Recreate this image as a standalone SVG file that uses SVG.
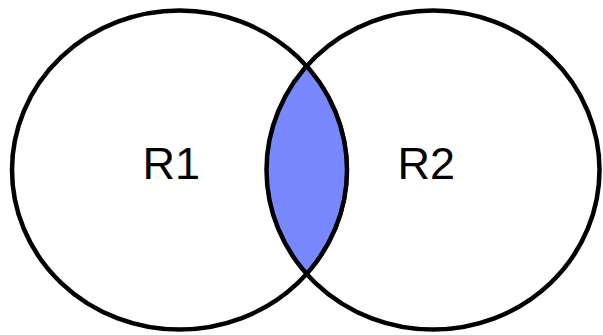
<svg xmlns="http://www.w3.org/2000/svg" width="603" height="335" viewBox="0 0 603 335">
  <style>
    .ring { fill: none; stroke: #000; stroke-width: 4.5; }
    .lens { fill: #7888FF; stroke: #000; stroke-width: 3; stroke-linejoin: round; }
    .lbl { font-family: "Liberation Sans", Arial, sans-serif; font-size: 45px; fill: #000; }
  </style>
  <rect width="603" height="335" fill="#fff"/>
  <g id="intersection">
    <path class="lens" d="M307,66 A167.5,159.5 0 0 1 307,274 A167.5,159.5 0 0 1 307,66 Z"/>
  </g>
  <g id="R1">
    <ellipse class="ring" cx="179.5" cy="170" rx="167.5" ry="159.5"/>
    <text class="lbl" x="142.5" y="178.5">R1</text>
  </g>
  <g id="R2">
    <ellipse class="ring" cx="433" cy="170" rx="166.5" ry="159.5"/>
    <text class="lbl" x="397.5" y="178.5">R2</text>
  </g>
</svg>
